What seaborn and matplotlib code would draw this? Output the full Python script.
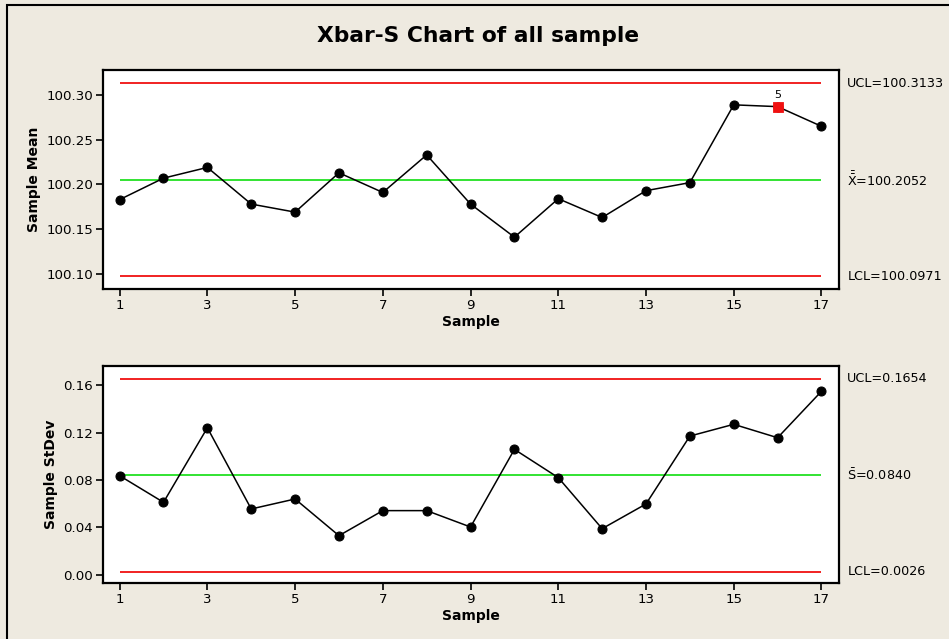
import matplotlib
matplotlib.use("Agg")
import matplotlib.pyplot as plt
import seaborn as sns
import pandas as pd
from matplotlib.patches import Rectangle

# 数据
samples = list(range(1, 18))
sample_mean = [100.183, 100.207, 100.219, 100.178, 100.169, 100.213, 100.191, 100.233,
               100.178, 100.141, 100.184, 100.163, 100.193, 100.202, 100.289, 100.287,
               100.265]
sample_stdev = [0.0836, 0.0612, 0.1240, 0.0556, 0.0640, 0.0331, 0.0542, 0.0542,
                0.0404, 0.1058, 0.0820, 0.0390, 0.0598, 0.1170, 0.1269, 0.1156,
                0.1547]
xbar_limits = {"UCL": 100.3133, "CL": 100.2052, "LCL": 100.0971}
s_limits = {"UCL": 0.1654, "CL": 0.0840, "LCL": 0.0026}
flagged_samples = [16]
flagged_tests = ["5"]
xticks = [1, 3, 5, 7, 9, 11, 13, 15, 17]
xbar_yticks = [100.10, 100.15, 100.20, 100.25, 100.30]
s_yticks = [0.00, 0.04, 0.08, 0.12, 0.16]

sns.set_style("white")
plt.rcParams['font.family'] = ['DejaVu Sans']
plt.rcParams['text.color'] = 'black'
plt.rcParams['axes.labelcolor'] = 'black'
plt.rcParams['xtick.color'] = 'black'
plt.rcParams['ytick.color'] = 'black'

BG = '#EEEAE0'
RED = '#F01010'
GREEN = '#22E022'

fig = plt.figure(figsize=(9.49, 6.39), dpi=100, facecolor=BG)
fig.patches.append(Rectangle((7 / 949, -0.1), 1.2, 1 - 5 / 639 + 0.1, transform=fig.transFigure,
                             fill=False, edgecolor='black', linewidth=1.5, zorder=0))

ax1 = fig.add_axes([0.1085, 0.5477, 0.7756, 0.3428])
ax2 = fig.add_axes([0.1085, 0.0872, 0.7756, 0.3400])

df = pd.DataFrame({"sample": samples, "mean": sample_mean, "stdev": sample_stdev})


def draw_panel(ax, col, limits, yticks, ylabel, ylim, fmt, labels):
    ax.set_facecolor('white')
    lo, hi = samples[0], samples[-1]
    ax.hlines([limits["UCL"], limits["LCL"]], lo, hi, colors=RED, linewidth=1.3, zorder=1)
    ax.hlines(limits["CL"], lo, hi, colors=GREEN, linewidth=1.3, zorder=1)
    sns.lineplot(data=df, x="sample", y=col, ax=ax, color='black', linewidth=1.1,
                 marker='o', markersize=6.5, markeredgecolor='black', zorder=3)
    ax.set_xlim(0.62, 17.40)
    ax.set_ylim(*ylim)
    ax.set_xticks(xticks)
    ax.set_yticks(yticks)
    ax.set_yticklabels([fmt.format(v) for v in yticks])
    ax.tick_params(axis='both', direction='out', length=5, width=1.2, labelsize=9.6,
                   colors='black', left=True, bottom=True, pad=2)
    for sp in ax.spines.values():
        sp.set_color('black')
        sp.set_linewidth(1.6)
    ax.set_xlabel("Sample", fontsize=10, fontweight='bold', labelpad=2)
    ax.set_ylabel(ylabel, fontsize=10, fontweight='bold', labelpad=4)
    for key, txt in zip(["UCL", "CL", "LCL"], labels):
        ax.annotate(txt, xy=(1.0, limits[key]), xycoords=('axes fraction', 'data'),
                    xytext=(6, 0), textcoords='offset points', va='center', ha='left',
                    fontsize=9.2, annotation_clip=False)


draw_panel(ax1, "mean", xbar_limits, xbar_yticks, "Sample Mean", (100.083, 100.328), "{:.2f}",
           ["UCL=100.3133", r"$\bar{\bar{\mathrm{X}}}$=100.2052", "LCL=100.0971"])
draw_panel(ax2, "stdev", s_limits, s_yticks, "Sample StDev", (-0.007, 0.176), "{:.2f}",
           ["UCL=0.1654", r"$\bar{\mathrm{S}}$=0.0840", "LCL=0.0026"])

# 失控点 (检验 5)
flag_df = df[df["sample"].isin(flagged_samples)]
sns.scatterplot(data=flag_df, x="sample", y="mean", ax=ax1, marker='s', s=55, color=RED,
                edgecolor=RED, zorder=4)
for (_, row), t in zip(flag_df.iterrows(), flagged_tests):
    ax1.annotate(t, xy=(row["sample"], row["mean"]), xytext=(0, 5), textcoords='offset points',
                 ha='center', va='bottom', fontsize=8)
ax1.set_xlabel("Sample", fontsize=10, fontweight='bold', labelpad=2)

fig.text(0.504, 0.944, "Xbar-S Chart of all sample", ha='center', va='center',
         fontsize=15.7, fontweight='bold')

fig.savefig("out.png", dpi=100, facecolor=BG)
